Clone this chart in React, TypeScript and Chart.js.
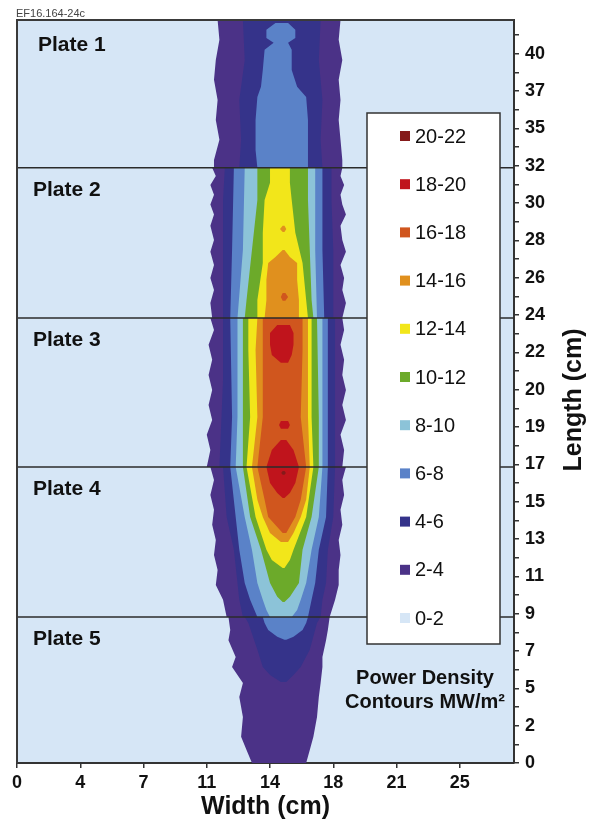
import React, { useEffect, useRef } from 'react';
import { Chart, registerables } from 'chart.js';

Chart.register(...registerables);

const FONT = '"Liberation Sans", Arial, Helvetica, sans-serif';

// ---------- axis / text data ----------
const xTickLabels = ['0', '4', '7', '11', '14', '18', '21', '25'];
const xTickStep = 3.5;
const yTickLabels = ['0', '2', '5', '7', '9', '11', '13', '15', '17', '19', '20', '22', '24', '26', '28', '30', '32', '35', '37', '40'];
const plateNames = ['Plate 1', 'Plate 2', 'Plate 3', 'Plate 4', 'Plate 5'];
const plateBoundaries = [15.94, 11.92, 7.93, 3.91];
const figureId = 'EF16.164-24c';
const xTitle = 'Width (cm)';
const yTitle = 'Length (cm)';
const noteLines = ['Power Density', 'Contours MW/m²'];

// ---------- contour levels ----------
const levelLabels = ['0-2', '2-4', '4-6', '6-8', '8-10', '10-12', '12-14', '14-16', '16-18', '18-20', '20-22'];
const levelColors = ['#D6E6F6', '#4B3287', '#35338A', '#5A82C8', '#8CC3D8', '#6CAA2A', '#F2E61A', '#E0901E', '#D0561E', '#C0141C', '#851A1A'];

// each island: rows of [length, leftEdgeWidth, rightEdgeWidth]
const band2to4 = [
  [[19.9, 11.1, 17.9], [19.37, 11.2, 17.8], [18.83, 11.0, 18.0], [18.3, 10.9, 17.8], [17.76, 11.1, 17.9], [17.22, 11.0, 17.8], [16.69, 11.2, 17.9], [16.15, 10.9, 18.0], [15.94, 10.9, 18.0]],
  [[15.94, 10.8, 18.0], [15.72, 11.0, 17.9], [15.48, 10.7, 18.1], [15.22, 10.9, 17.9], [14.96, 10.7, 18.0], [14.69, 10.9, 18.2], [14.39, 10.7, 17.9], [14.01, 10.9, 18.0], [13.69, 10.7, 18.2], [13.34, 10.9, 17.9], [12.99, 10.7, 18.1], [12.67, 10.9, 18.0], [12.32, 10.7, 18.2], [11.92, 10.8, 18.0]],
  [[11.92, 10.7, 18.0], [11.6, 10.9, 18.1], [11.2, 10.6, 17.9], [10.8, 10.8, 18.1], [10.39, 10.6, 18.0], [9.99, 10.8, 18.2], [9.59, 10.6, 18.0], [9.19, 10.8, 18.2], [8.79, 10.5, 17.9], [8.38, 10.7, 18.1], [7.93, 10.5, 18.0]],
  [[7.93, 10.7, 18.2], [7.58, 10.9, 18.0], [7.18, 10.7, 18.1], [6.78, 10.9, 17.9], [6.38, 10.8, 18.0], [5.97, 11.0, 17.8], [5.57, 10.9, 17.9], [5.17, 11.1, 17.8], [4.77, 11.0, 17.8], [4.37, 11.4, 17.6], [3.91, 11.6, 17.3]],
  [[3.91, 11.7, 17.3], [3.56, 11.8, 17.2], [3.29, 11.7, 17.1], [2.84, 12.1, 16.9], [2.57, 11.9, 16.9], [2.14, 12.5, 16.8], [1.77, 12.3, 16.7], [1.23, 12.5, 16.6], [0.7, 12.4, 16.4], [0.35, 12.7, 16.2], [0, 13.0, 16.0]],
];
const band4to6 = [
  [[19.9, 12.5, 16.8], [18.83, 12.6, 16.7], [17.76, 12.3, 16.9], [16.69, 12.4, 16.8], [15.94, 12.3, 16.9]],
  [[15.94, 11.5, 17.4], [15.08, 11.4, 17.4], [13.74, 11.4, 17.5], [11.92, 11.4, 17.5]],
  [[11.92, 11.4, 17.6], [10.26, 11.4, 17.6], [7.93, 11.2, 17.6]],
  [[7.93, 11.4, 17.6], [6.59, 11.6, 17.5], [5.71, 12.0, 17.2], [4.82, 12.2, 17.1], [4.37, 12.3, 16.9], [3.91, 12.5, 16.8]],
  [[3.91, 12.6, 16.8], [3.75, 12.8, 16.6], [3.03, 13.3, 16.2], [2.57, 13.6, 15.7], [2.36, 14.0, 15.3], [2.17, 14.6, 14.9]],
];
const band6to8 = [
  [[19.82, 14.3, 15.0], [19.64, 13.8, 15.4], [19.42, 13.8, 15.4], [19.29, 14.2, 15.0], [19.1, 13.7, 15.2], [18.56, 13.6, 15.2], [18.11, 13.5, 15.5], [17.84, 13.3, 16.0], [17.22, 13.2, 16.1], [16.42, 13.2, 16.1], [15.94, 13.3, 16.1]],
  [[15.94, 12.0, 16.9], [13.74, 11.9, 16.9], [11.92, 11.8, 17.0]],
  [[11.92, 11.8, 17.2], [9.27, 11.9, 17.2], [7.93, 11.8, 17.2]],
  [[7.93, 11.8, 17.2], [6.59, 12.1, 17.1], [5.71, 12.3, 16.7], [4.82, 12.6, 16.5], [4.37, 12.9, 16.3], [3.91, 13.3, 16.1]],
  [[3.91, 13.6, 16.1], [3.75, 13.7, 16.0], [3.56, 13.9, 15.8], [3.38, 14.4, 15.3], [3.3, 14.8, 14.9]],
];
const band8to10 = [
  [[15.94, 12.6, 16.5], [13.74, 12.5, 16.5], [11.92, 12.2, 16.6]],
  [[11.92, 12.2, 16.9], [9.27, 12.2, 16.9], [7.93, 12.1, 16.9]],
  [[7.93, 12.1, 16.9], [6.59, 12.6, 16.7], [5.71, 13.0, 16.3], [4.82, 13.3, 16.0], [4.37, 13.6, 15.7], [4.1, 13.8, 15.5], [3.91, 14.0, 15.2]],
];
const band10to12 = [
  [[15.94, 13.3, 16.1], [15.08, 13.3, 16.1], [13.74, 13.0, 16.2], [12.4, 12.7, 16.3], [11.92, 12.6, 16.4]],
  [[11.92, 12.5, 16.6], [9.27, 12.5, 16.7], [7.93, 12.5, 16.7]],
  [[7.93, 12.5, 16.7], [6.59, 12.9, 16.3], [5.71, 13.5, 15.8], [4.82, 14.0, 15.6], [4.45, 14.4, 15.1], [4.31, 14.7, 14.8]],
];
const band12to14 = [
  [[15.94, 14.0, 15.1], [15.54, 14.0, 15.1], [15.08, 13.7, 15.2], [14.2, 13.6, 15.4], [13.39, 13.6, 15.8], [12.4, 13.3, 16.0], [11.92, 13.3, 16.1]],
  [[11.92, 12.8, 16.3], [11.06, 12.8, 16.3], [9.27, 12.9, 16.3], [7.93, 12.7, 16.4]],
  [[7.93, 12.7, 16.4], [6.59, 13.2, 16.0], [5.71, 13.8, 15.3], [5.44, 14.1, 15.1], [5.22, 14.7, 14.8]],
];
const band14to16 = [
  [[14.39, 14.7, 14.8], [14.3, 14.55, 14.9], [14.22, 14.7, 14.8]],
  [[13.74, 14.7, 14.8], [13.55, 14.3, 15.1], [13.39, 13.9, 15.5], [12.94, 13.8, 15.5], [12.4, 13.8, 15.6], [11.92, 13.7, 15.6]],
  [[11.92, 13.3, 16.1], [11.06, 13.2, 16.1], [9.27, 13.3, 16.1], [7.93, 13.0, 16.2]],
  [[7.93, 13.0, 16.2], [7.05, 13.3, 16.0], [6.59, 13.6, 15.7], [6.16, 14.0, 15.3], [5.92, 14.6, 15.0]],
];
const band16to18 = [
  [[12.59, 14.7, 14.85], [12.48, 14.6, 15.0], [12.38, 14.7, 14.85]],
  [[11.92, 13.6, 15.8], [11.06, 13.6, 15.8], [9.27, 13.6, 15.7], [7.93, 13.3, 16.0]],
  [[7.93, 13.3, 16.0], [7.05, 13.7, 15.7], [6.59, 13.9, 15.4], [6.16, 14.7, 14.9]],
];
const band18to20 = [
  [[11.73, 14.4, 15.1], [11.52, 14.0, 15.3], [11.2, 14.0, 15.3], [10.93, 14.1, 15.2], [10.72, 14.6, 15.0]],
  [[9.16, 14.6, 15.0], [9.05, 14.5, 15.1], [8.95, 14.6, 15.0]],
  [[8.65, 14.6, 14.9], [8.38, 14.1, 15.3], [7.93, 13.8, 15.6], [7.5, 14.0, 15.4], [7.23, 14.4, 15.1], [7.1, 14.7, 14.8]],
];
const band20to22 = [
  [[7.82, 14.7, 14.8], [7.77, 14.62, 14.88], [7.72, 14.7, 14.8]],
];

const bands = [band2to4, band4to6, band6to8, band8to10, band10to12, band12to14, band14to16, band16to18, band18to20, band20to22];

function islandToPoints(island: number[][]) {
  const left = island.map((r) => ({ x: r[1], y: r[0] }));
  const right = island.slice().reverse().map((r) => ({ x: r[2], y: r[0] }));
  return left.concat(right);
}

function buildDatasets() {
  const ds: any[] = [];
  plateBoundaries.forEach((b) => {
    ds.push({
      data: [{ x: 0, y: b }, { x: 27.5, y: b }],
      showLine: true,
      borderColor: '#2b2b2b',
      borderWidth: 1.5,
      pointRadius: 0,
      fill: false,
    });
  });
  for (let i = bands.length - 1; i >= 0; i--) {
    const color = levelColors[i + 1];
    bands[i].forEach((island) => {
      ds.push({
        data: islandToPoints(island),
        showLine: true,
        fill: 'shape',
        backgroundColor: color,
        borderColor: color,
        borderWidth: 0,
        pointRadius: 0,
        tension: 0,
      });
    });
  }
  return ds;
}

const decorPlugin = {
  id: 'decor',
  beforeDraw(chart: any) {
    const { ctx, chartArea: a } = chart;
    ctx.save();
    ctx.fillStyle = '#ffffff';
    ctx.fillRect(0, 0, chart.width, chart.height);
    ctx.fillStyle = levelColors[0];
    ctx.fillRect(a.left, a.top, a.right - a.left, a.bottom - a.top);
    ctx.restore();
  },
  afterDatasetsDraw(chart: any) {
    const { ctx, chartArea: a, scales } = chart;
    ctx.save();
    ctx.textBaseline = 'middle';
    ctx.textAlign = 'left';
    ctx.fillStyle = '#111';
    ctx.font = `bold 21px ${FONT}`;
    const tops = [a.top, ...plateBoundaries.map((b) => scales.y.getPixelForValue(b))];
    plateNames.forEach((n, i) => {
      ctx.fillText(n, a.left + (i === 0 ? 21 : 16), tops[i] + (i === 0 ? 25 : 22));
    });

    // legend box
    const bx = 367, by = 113, bw = 133, bh = 531;
    ctx.fillStyle = '#ffffff';
    ctx.fillRect(bx, by, bw, bh);
    ctx.strokeStyle = '#333';
    ctx.lineWidth = 1.5;
    ctx.strokeRect(bx, by, bw, bh);
    ctx.font = `20px ${FONT}`;
    const n = levelLabels.length;
    for (let k = 0; k < n; k++) {
      const li = n - 1 - k;
      const yy = 136 + k * 48.2;
      ctx.fillStyle = levelColors[li];
      ctx.fillRect(400, yy - 5, 10, 10);
      ctx.fillStyle = '#111';
      ctx.fillText(levelLabels[li], 415, yy + 1);
    }

    ctx.font = `bold 20px ${FONT}`;
    ctx.textAlign = 'center';
    ctx.fillStyle = '#111';
    ctx.fillText(noteLines[0], 425, 678);
    ctx.fillText(noteLines[1], 425, 702);
    ctx.restore();
  },
  afterDraw(chart: any) {
    const { ctx, chartArea: a } = chart;
    ctx.save();
    ctx.strokeStyle = '#3a3a3a';
    ctx.lineWidth = 2;
    ctx.beginPath();
    ctx.moveTo(a.left, a.bottom);
    ctx.lineTo(a.left, a.top);
    ctx.lineTo(a.right, a.top);
    ctx.stroke();

    ctx.fillStyle = '#444';
    ctx.font = `11px ${FONT}`;
    ctx.textAlign = 'left';
    ctx.textBaseline = 'middle';
    ctx.fillText(figureId, 16, 14);

    ctx.fillStyle = '#111';
    ctx.font = `bold 25px ${FONT}`;
    ctx.textAlign = 'center';
    ctx.translate(574, 400);
    ctx.rotate(-Math.PI / 2);
    ctx.fillText(yTitle, 0, 0);
    ctx.restore();
  },
};

export default function App() {
  const ref = useRef<HTMLCanvasElement>(null);
  useEffect(() => {
    const tickFont = { family: FONT, size: 18, weight: 'bold' as const };
    const chart = new Chart(ref.current as HTMLCanvasElement, {
      type: 'scatter',
      data: { datasets: buildDatasets() },
      options: {
        animation: false,
        responsive: false,
        devicePixelRatio: 1,
        layout: { padding: { left: 17, top: 20, right: 0, bottom: 0 } },
        plugins: { legend: { display: false }, tooltip: { enabled: false } },
        scales: {
          x: {
            type: 'linear',
            min: 0,
            max: 27.5,
            bounds: 'data',
            afterFit: (s: any) => { s.height = 65; },
            afterBuildTicks: (s: any) => { s.ticks = xTickLabels.map((_, i) => ({ value: i * xTickStep })); },
            grid: { display: true, drawOnChartArea: false, drawTicks: true, tickLength: 5, color: '#333', lineWidth: 1.5 },
            border: { display: true, color: '#333', width: 2 },
            ticks: {
              autoSkip: false,
              maxRotation: 0,
              padding: 4,
              color: '#111',
              font: tickFont,
              callback: (_v: any, i: number) => xTickLabels[i] ?? '',
            },
            title: {
              display: true,
              text: xTitle,
              color: '#111',
              font: { family: FONT, size: 25, weight: 'bold' },
              padding: { top: 0, bottom: 6 },
            },
          },
          y: {
            type: 'linear',
            position: 'right',
            min: 0,
            max: 19.9,
            bounds: 'data',
            afterFit: (s: any) => { s.width = 79; },
            afterBuildTicks: (s: any) => { s.ticks = Array.from({ length: yTickLabels.length * 2 }, (_, i) => ({ value: i * 0.5 })); },
            grid: { display: true, drawOnChartArea: false, drawTicks: true, tickLength: 5, color: '#333', lineWidth: 1.5 },
            border: { display: true, color: '#333', width: 2 },
            ticks: {
              autoSkip: false,
              padding: 6,
              color: '#111',
              font: tickFont,
              callback: (v: any) => {
                const r = Math.round(v);
                return Math.abs(v - r) < 1e-6 ? (yTickLabels[r] ?? '') : '';
              },
            },
          },
        },
      },
      plugins: [decorPlugin],
    } as any);
    return () => chart.destroy();
  }, []);
  return (
    <div style={{ position: 'absolute', left: 0, top: 0, width: 593, height: 828, background: '#fff' }}>
      <canvas ref={ref} width={593} height={828} style={{ display: 'block', width: 593, height: 828 }} />
    </div>
  );
}
